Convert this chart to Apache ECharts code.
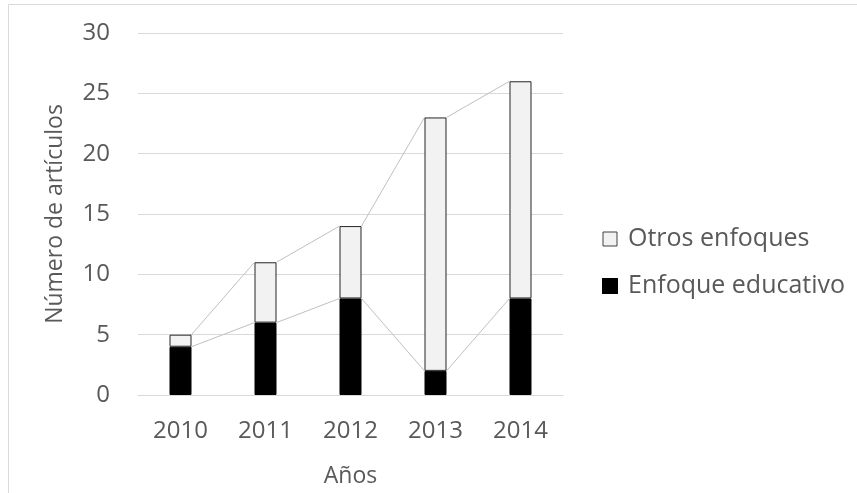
<!DOCTYPE html>
<html>
<head>
<meta charset="utf-8">
<script src="https://cdn.jsdelivr.net/npm/echarts@6/dist/echarts.min.js"></script>
<style>html,body{margin:0;padding:0;background:#fff}#c{width:857px;height:493px}</style>
</head>
<body>
<div id="c"></div>
<script>
var categories = ['2010', '2011', '2012', '2013', '2014'];
var enfoqueEducativo = [4, 6, 8, 2, 8];
var otrosEnfoques = [1, 5, 6, 21, 18];
var yTicks = { min: 0, max: 30, interval: 5 };

var FONT = 'Open Sans';
var TEXT = '#595959';
var BAR_W = 22;

var totals = enfoqueEducativo.map(function (v, i) { return v + otrosEnfoques[i]; });
var seriesLineData = [];
for (var i = 0; i < categories.length - 1; i++) {
  seriesLineData.push([i, enfoqueEducativo[i], enfoqueEducativo[i + 1]]);
  seriesLineData.push([i, totals[i], totals[i + 1]]);
}

var chart = echarts.init(document.getElementById('c'), null, { renderer: 'canvas' });
chart.setOption({
  animation: false,
  backgroundColor: '#fff',
  textStyle: { fontFamily: FONT },
  graphic: [{
    type: 'rect', silent: true, z: -10,
    shape: { x: 8.5, y: 4.5, width: 1000, height: 1000 },
    style: { fill: 'none', stroke: '#d9d9d9', lineWidth: 1 }
  }],
  grid: { left: 138, right: 294, top: 33, bottom: 98 },
  legend: {
    data: [
      { name: 'Otros enfoques', itemStyle: { color: '#f2f2f2', borderColor: '#404040', borderWidth: 1 } },
      { name: 'Enfoque educativo', itemStyle: { color: '#000' } }
    ],
    orient: 'vertical', left: 597, top: 225, padding: [0, 5, 0, 5],
    itemWidth: 14, itemHeight: 14, itemGap: 19,
    icon: 'rect',
    textStyle: { color: TEXT, fontSize: 25, fontFamily: FONT, lineHeight: 28, padding: [0, 0, 0, 6] }
  },
  xAxis: {
    type: 'category', data: categories,
    name: 'Años', nameLocation: 'middle', nameGap: 70,
    nameTextStyle: { color: TEXT, fontSize: 23, fontFamily: FONT },
    axisLine: { show: true, lineStyle: { color: '#d9d9d9' } },
    axisTick: { show: false },
    axisLabel: { color: TEXT, fontSize: 24, fontFamily: FONT, margin: 24 }
  },
  yAxis: {
    type: 'value', min: yTicks.min, max: yTicks.max, interval: yTicks.interval,
    name: 'Número de artículos', nameLocation: 'middle', nameGap: 71,
    nameTextStyle: { color: TEXT, fontSize: 23, fontFamily: FONT },
    axisLine: { show: false }, axisTick: { show: false },
    splitLine: { lineStyle: { color: '#d9d9d9' } },
    axisLabel: { color: TEXT, fontSize: 24, fontFamily: FONT, margin: 28 }
  },
  series: [
    {
      type: 'custom', name: 'serieslines', silent: true, z: 1,
      data: seriesLineData,
      encode: { x: 0, y: [1, 2] },
      renderItem: function (params, api) {
        var i = api.value(0);
        var p1 = api.coord([i, api.value(1)]);
        var p2 = api.coord([i + 1, api.value(2)]);
        return {
          type: 'line',
          shape: { x1: p1[0] + BAR_W / 2, y1: p1[1], x2: p2[0] - BAR_W / 2, y2: p2[1] },
          style: { stroke: '#c0c0c0', lineWidth: 1 }
        };
      }
    },
    {
      type: 'bar', name: 'Enfoque educativo', stack: 'a', barWidth: BAR_W, z: 2,
      data: enfoqueEducativo,
      itemStyle: { color: '#000', borderColor: '#000', borderWidth: 1 }
    },
    {
      type: 'bar', name: 'Otros enfoques', stack: 'a', barWidth: BAR_W, z: 2,
      data: otrosEnfoques,
      itemStyle: { color: '#f2f2f2', borderColor: '#262626', borderWidth: 1 }
    }
  ]
});
</script>
</body>
</html>
